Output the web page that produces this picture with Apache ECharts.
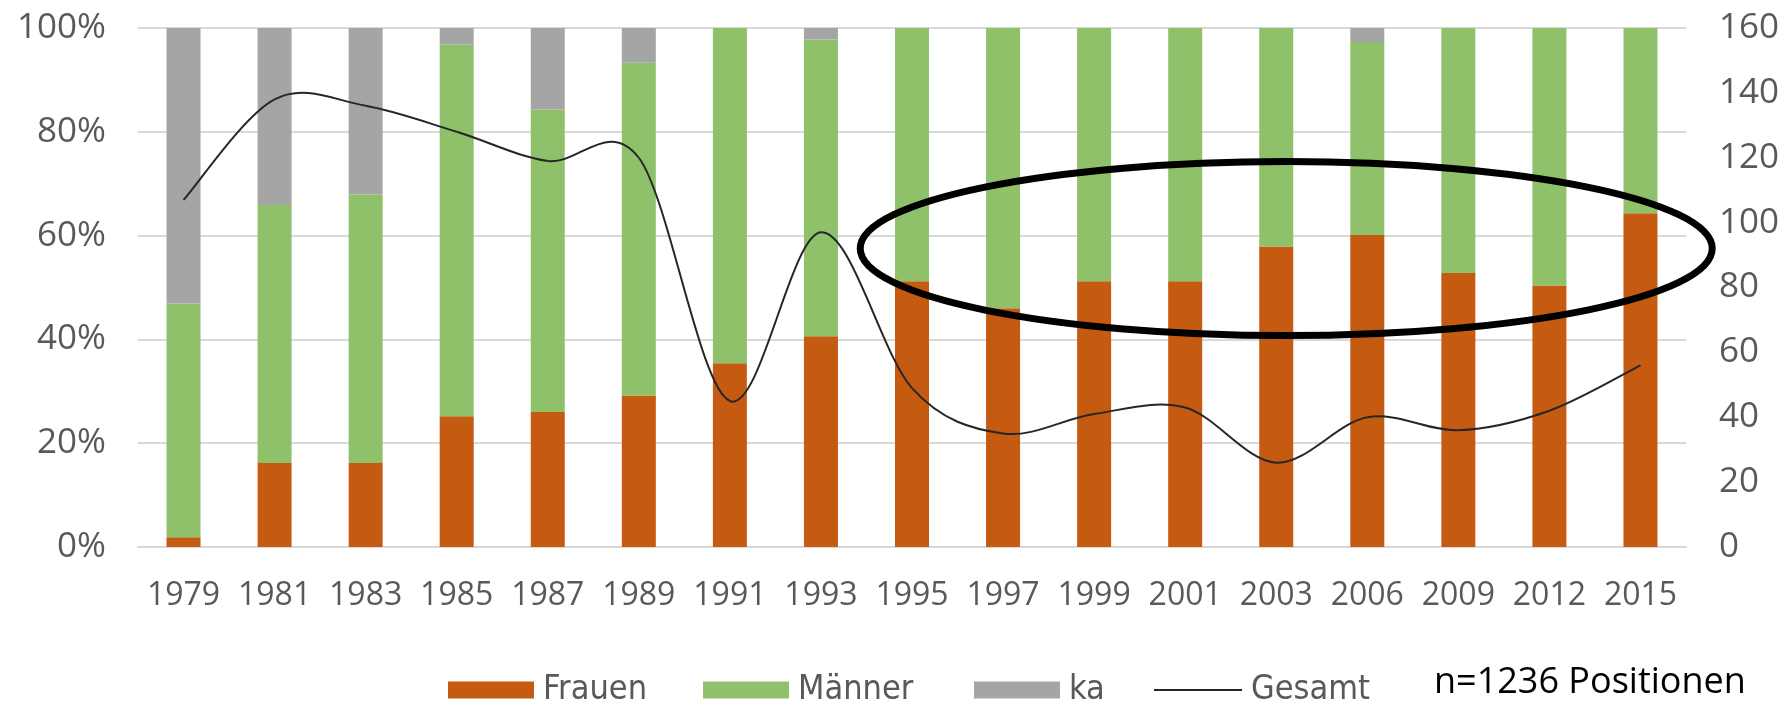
<!DOCTYPE html>
<html>
<head>
<meta charset="utf-8">
<script src="https://cdn.jsdelivr.net/npm/echarts@6/dist/echarts.min.js"></script>
<style>
html, body { margin: 0; padding: 0; background: #fff; }
#chart { width: 1788px; height: 706px; }
</style>
</head>
<body>
<div id="chart"></div>
<script>
// Jahre (Kategorien)
var years = ['1979', '1981', '1983', '1985', '1987', '1989', '1991', '1993', '1995',
             '1997', '1999', '2001', '2003', '2006', '2009', '2012', '2015'];

// Anteile in % (linke Achse)
var frauen  = [1.9, 16.2, 16.2, 25.2, 26.0, 29.2, 35.4, 40.6, 51.2, 46.0, 51.2, 51.2, 57.9, 60.1, 52.8, 50.4, 64.3];
var maenner = [45.0, 49.7, 51.7, 71.6, 58.3, 64.1, 64.6, 57.2, 48.8, 54.0, 48.8, 48.8, 42.1, 37.2, 47.2, 49.6, 35.7];
var ka      = [53.1, 34.1, 32.1, 3.2, 15.7, 6.7, 0, 2.2, 0, 0, 0, 0, 0, 2.7, 0, 0, 0];

// Anzahl Positionen gesamt (rechte Achse)
var gesamt  = [107, 138, 136, 128, 119, 120, 45, 97, 49, 35, 41, 43, 26, 40, 36, 42, 56];

var font = '"Open Sans", "DejaVu Sans", sans-serif';
var font_legend = '"DejaVu Sans Condensed", "Open Sans", sans-serif';
var grey_text = '#595959';

// Legende: eine Komponente pro Eintrag, damit die Abstände stimmen
function legendAt(name, left, w, h) {
    return {
        left: left, top: 668,
        itemWidth: w, itemHeight: h,
        icon: 'rect',
        textStyle: { color: grey_text, fontSize: 34, fontFamily: font_legend, padding: [0, 0, 0, 4] },
        data: [name]
    };
}

// geglättete Linie wie in Excel (Bezier, Tangente = (P[i+1]-P[i-1])/6)
function renderGesamt(params, api) {
    var i = params.dataIndex;
    var n = gesamt.length;
    if (i >= n - 1) return null;
    function p(k) {
        k = Math.max(0, Math.min(n - 1, k));
        return api.coord([k, gesamt[k]]);
    }
    var p0 = p(i - 1), p1 = p(i), p2 = p(i + 1), p3 = p(i + 2);
    return {
        type: 'bezierCurve',
        shape: {
            x1: p1[0], y1: p1[1],
            cpx1: p1[0] + (p2[0] - p0[0]) / 6, cpy1: p1[1] + (p2[1] - p0[1]) / 6,
            cpx2: p2[0] - (p3[0] - p1[0]) / 6, cpy2: p2[1] - (p3[1] - p1[1]) / 6,
            x2: p2[0], y2: p2[1]
        },
        style: { fill: null, stroke: '#262626', lineWidth: 2 }
    };
}

var myChart = echarts.init(document.getElementById('chart'));

var option = {
    animation: false,
    backgroundColor: '#fff',
    grid: { left: 138, right: 102, top: 28, bottom: 159, containLabel: false },
    legend: [
        legendAt('Frauen', 443, 86, 17),
        legendAt('Männer', 698, 86, 17),
        legendAt('ka', 969, 86, 17),
        legendAt('Gesamt', 1149, 88, 2)
    ],
    xAxis: {
        type: 'category',
        data: years,
        axisTick: { show: false },
        axisLine: { lineStyle: { color: '#d9d9d9', width: 2 } },
        axisLabel: { interval: 0, hideOverlap: false, color: grey_text, fontSize: 32, fontFamily: font, margin: 33 }
    },
    yAxis: [
        {
            type: 'value',
            min: 0, max: 100, interval: 20,
            axisLabel: { formatter: '{value}%', color: grey_text, fontSize: 35, fontFamily: font, margin: 32 },
            splitLine: { lineStyle: { color: '#d9d9d9', width: 2 } },
            axisLine: { show: false },
            axisTick: { show: false }
        },
        {
            type: 'value',
            min: 0, max: 160, interval: 20,
            axisLabel: { color: grey_text, fontSize: 35, fontFamily: font, margin: 33 },
            splitLine: { show: false },
            axisLine: { show: false },
            axisTick: { show: false }
        }
    ],
    series: [
        {
            name: 'Frauen', type: 'bar', stack: 'anteil', barWidth: 34,
            itemStyle: { color: '#C55A11' }, data: frauen
        },
        {
            name: 'Männer', type: 'bar', stack: 'anteil', barWidth: 34,
            itemStyle: { color: '#8FC16B' }, data: maenner
        },
        {
            name: 'ka', type: 'bar', stack: 'anteil', barWidth: 34,
            itemStyle: { color: '#A5A5A5' }, data: ka
        },
        {
            name: 'Gesamt', type: 'custom', yAxisIndex: 1,
            renderItem: renderGesamt,
            itemStyle: { color: '#262626' },
            z: 5,
            data: years.map(function (y, i) { return [y, gesamt[i]]; })
        }
    ]
};
myChart.setOption(option);

// Ellipse als Markierung um 1995-2015, mittig auf 2003
var c = myChart.convertToPixel({ xAxisIndex: 0, yAxisIndex: 0 }, ['2003', 57.5]);
myChart.setOption({
    graphic: [
        {
            type: 'ellipse',
            shape: { cx: c[0] + 10, cy: c[1], rx: 426, ry: 87 },
            style: { fill: null, stroke: '#000', lineWidth: 7 },
            z: 100
        },
        {
            type: 'text',
            left: 1434,
            top: 665,
            style: { text: 'n=1236 Positionen', fill: '#000', fontSize: 36, fontFamily: font }
        }
    ]
});
</script>
</body>
</html>
